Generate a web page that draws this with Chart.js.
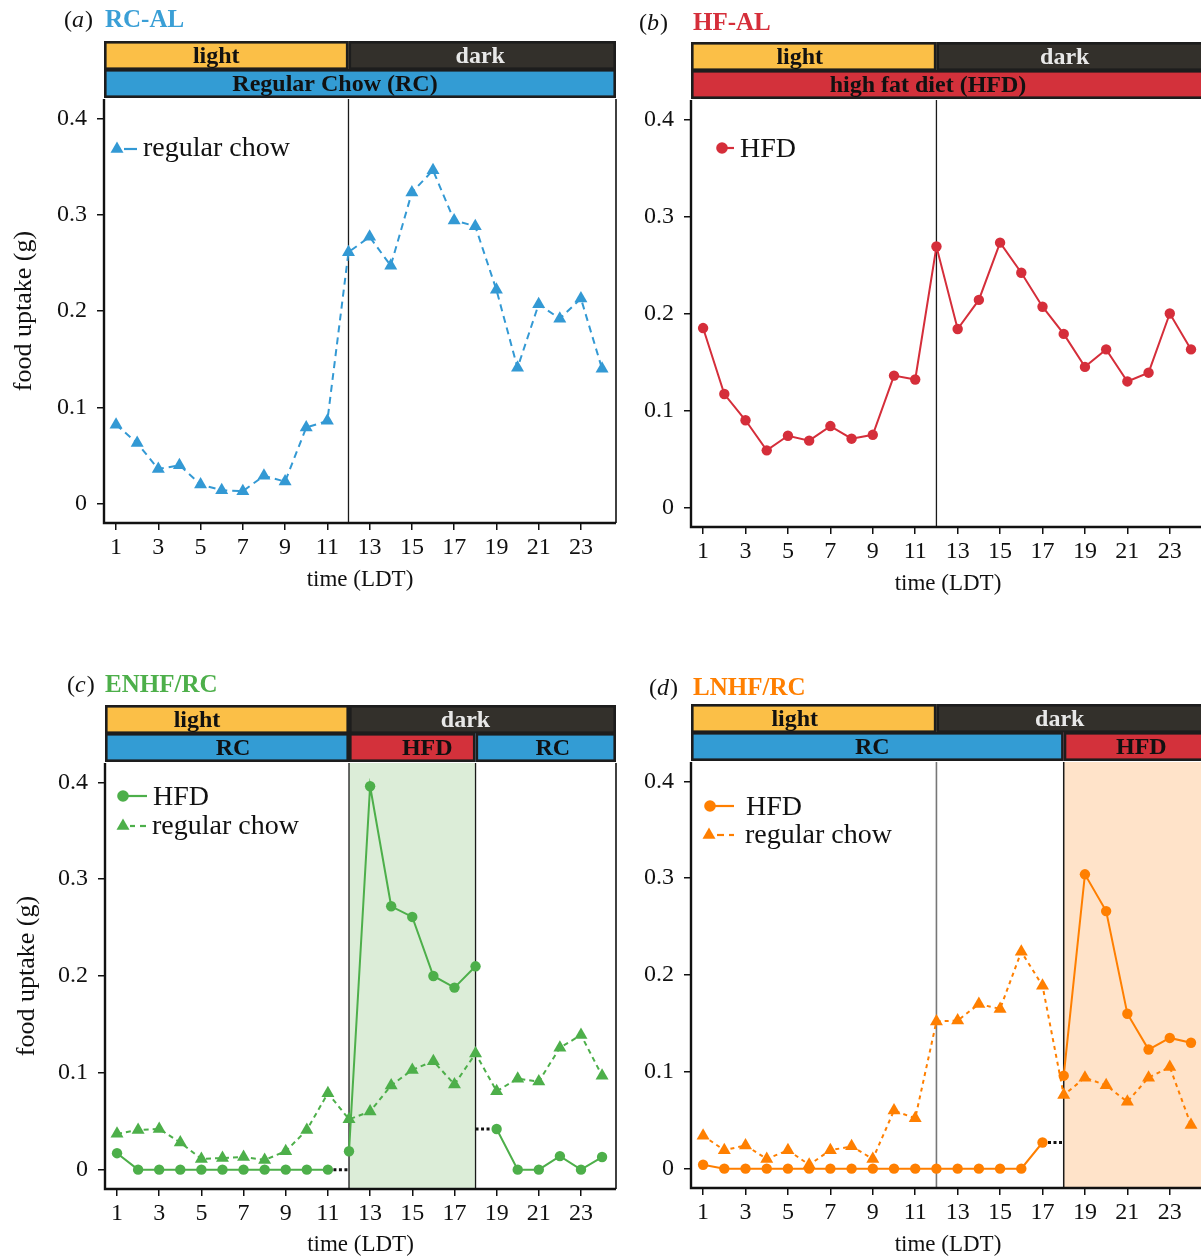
<!DOCTYPE html>
<html>
<head>
<meta charset="utf-8">
<script src="https://cdn.jsdelivr.net/npm/chart.js@4.4.1/dist/chart.umd.min.js"></script>
<style>
  html, body { margin: 0; padding: 0; background: #fff; overflow: hidden; width: 1201px; height: 1256px; }
  canvas { position: absolute; }
</style>
</head>
<body>
<canvas id="panelA" style="left:0px;top:0px" width="620" height="600"></canvas>
<canvas id="panelB" style="left:587px;top:0px" width="618" height="604"></canvas>
<canvas id="panelC" style="left:1px;top:660px" width="619" height="605"></canvas>
<canvas id="panelD" style="left:587px;top:660px" width="618" height="605"></canvas>
<script>
// ---- data: hourly food uptake (g) over the light/dark cycle ----
const hours = [1, 2, 3, 4, 5, 6, 7, 8, 9, 10, 11, 12, 13, 14, 15, 16, 17, 18, 19, 20, 21, 22, 23, 24];
const xTickHours = [1, 3, 5, 7, 9, 11, 13, 15, 17, 19, 21, 23];
const yTickValues = [0, 0.1, 0.2, 0.3, 0.4];

// (a) RC-AL: regular chow ad libitum
const rcAlChow = [0.082, 0.063, 0.036, 0.040, 0.020, 0.014, 0.013, 0.029, 0.023, 0.079, 0.086, 0.261,
                  0.277, 0.247, 0.323, 0.346, 0.294, 0.288, 0.222, 0.141, 0.207, 0.192, 0.213, 0.140];
// (b) HF-AL: high fat diet ad libitum
const hfAlHfd = [0.185, 0.117, 0.090, 0.059, 0.074, 0.069, 0.084, 0.071, 0.075, 0.136, 0.132, 0.269,
                 0.184, 0.214, 0.273, 0.242, 0.207, 0.179, 0.145, 0.163, 0.130, 0.139, 0.200, 0.163];
// (c) ENHF/RC: early-night high fat diet
const enhfHfd = [0.017, 0, 0, 0, 0, 0, 0, 0, 0, 0, 0, 0.019,
                 0.396, 0.272, 0.261, 0.200, 0.188, 0.210, 0.042, 0, 0, 0.014, 0, 0.013];
const enhfChow = [0.037, 0.041, 0.042, 0.028, 0.011, 0.012, 0.013, 0.010, 0.019, 0.041, 0.079, 0.052,
                  0.060, 0.087, 0.103, 0.112, 0.088, 0.120, 0.081, 0.094, 0.091, 0.126, 0.139, 0.097];
const enhfHfdBreaks = [11, 18];          // diet switches: no line between hour h and h+1
// (d) LNHF/RC: late-night high fat diet
const lnhfHfd = [0.004, 0, 0, 0, 0, 0, 0, 0, 0, 0, 0, 0,
                 0, 0, 0, 0, 0.027, 0.096, 0.304, 0.266, 0.160, 0.123, 0.135, 0.130];
const lnhfChow = [0.034, 0.019, 0.024, 0.010, 0.019, 0.004, 0.019, 0.023, 0.010, 0.060, 0.052, 0.152,
                  0.153, 0.170, 0.165, 0.224, 0.189, 0.076, 0.094, 0.086, 0.069, 0.094, 0.105, 0.045];
const lnhfHfdBreaks = [17];

// ---- styling ----
const SERIF = '"Liberation Serif", "DejaVu Serif", "Times New Roman", serif';
const INK = '#111111';
const C_LIGHT = '#FBBF47', C_DARK = '#33302B', C_RC = '#339CD4', C_HFD = '#D3313B';
const BLUE = '#3399D4', RED = '#D52E3A', GREEN = '#4DAF4A', ORANGE = '#FF7F00';
const GREEN_SHADE = '#DCEDD8', ORANGE_SHADE = '#FFE3C9';
const TRI_R = 7.5, DOT_R = 5.2;

Chart.defaults.font.family = SERIF;
Chart.defaults.color = INK;

const pts = arr => hours.map((h, i) => ({ x: h, y: arr[i] }));

function series(arr, color, isChow, dash, breaks) {
  const br = breaks || [];
  return {
    data: pts(arr),
    borderColor: color,
    backgroundColor: color,
    pointBackgroundColor: color,
    borderWidth: 2,
    borderDash: isChow ? dash : [],
    pointStyle: isChow ? 'triangle' : 'circle',
    pointRadius: isChow ? TRI_R : DOT_R,
    pointHoverRadius: isChow ? TRI_R : DOT_R,
    pointBorderWidth: 0,
    tension: 0,
    segment: {
      borderColor: c => br.includes(c.p0.parsed.x) ? 'rgba(0,0,0,0)' : undefined
    }
  };
}

// dotted black link drawn at the level of one hour's value
function link(arr, fromHour, toHour, levelHour) {
  const y = arr[levelHour - 1];
  return {
    data: [{ x: fromHour, y }, { x: toHour, y }],
    borderColor: INK, borderWidth: 3, borderDash: [3, 2.5],
    pointRadius: 0, pointHoverRadius: 0, tension: 0
  };
}

function drawMarker(ctx, kind, x, y, r, color) {
  ctx.fillStyle = color;
  ctx.beginPath();
  if (kind === 'triangle') {
    for (let k = 0; k < 3; k++) {
      const ang = k * 2 * Math.PI / 3;
      const px = x + Math.sin(ang) * r, py = y - Math.cos(ang) * r;
      k === 0 ? ctx.moveTo(px, py) : ctx.lineTo(px, py);
    }
    ctx.closePath();
  } else {
    ctx.arc(x, y, r, 0, 2 * Math.PI);
  }
  ctx.fill();
}

const panelDecor = {
  id: 'panelDecor',
  beforeDatasetsDraw(chart, args, o) {
    const { ctx, chartArea: a, scales: { x } } = chart;
    const px = v => x.getPixelForValue(v);
    ctx.save();
    (o.shade || []).forEach(s => {
      const x0 = px(s.from), x1 = s.to == null ? a.right : px(s.to);
      ctx.fillStyle = s.color;
      ctx.fillRect(x0, a.top, x1 - x0, a.bottom - a.top);
    });
    (o.vlines || []).forEach(v => {
      const p = px(v.at);
      ctx.strokeStyle = v.color; ctx.lineWidth = v.width;
      ctx.beginPath(); ctx.moveTo(p, a.top); ctx.lineTo(p, a.bottom); ctx.stroke();
    });
    ctx.restore();
  },
  afterDraw(chart, args, o) {
    const { ctx, chartArea: a, scales: { x } } = chart;
    ctx.save();
    // frame
    ctx.strokeStyle = INK;
    ctx.lineWidth = 2.4;
    ctx.beginPath();
    ctx.moveTo(a.left, a.top); ctx.lineTo(a.left, a.bottom); ctx.lineTo(a.right, a.bottom);
    ctx.stroke();
    ctx.lineWidth = 1.6;
    ctx.beginPath(); ctx.moveTo(a.right, a.top); ctx.lineTo(a.right, a.bottom); ctx.stroke();

    // light/dark and diet strips
    o.strips.forEach(row => row.cells.forEach(c => {
      const x0 = c.from == null ? a.left : x.getPixelForValue(c.from);
      const x1 = c.to == null ? a.right : x.getPixelForValue(c.to);
      const y0 = a.top + row.y0, y1 = a.top + row.y1;
      ctx.fillStyle = c.fill;
      ctx.fillRect(x0, y0, x1 - x0, y1 - y0);
      ctx.strokeStyle = '#1d1d1d'; ctx.lineWidth = 2.6;
      ctx.strokeRect(x0 + 1.3, y0 + 1.3, x1 - x0 - 2.6, y1 - y0 - 2.6);
      ctx.fillStyle = c.ink;
      ctx.font = 'bold 24px ' + SERIF;
      ctx.textAlign = 'center'; ctx.textBaseline = 'alphabetic';
      ctx.fillText(c.label, (x0 + x1) / 2 + (c.dx || 0), y1 - 7);
    }));

    // panel heading: "(a)" + name
    const t = o.heading;
    ctx.textAlign = 'left'; ctx.textBaseline = 'alphabetic';
    ctx.fillStyle = INK;
    ctx.font = '24px ' + SERIF;
    let cx = t.x;
    ctx.fillText('(', cx, t.y); cx += ctx.measureText('(').width;
    ctx.font = 'italic 24px ' + SERIF;
    ctx.fillText(t.tag, cx, t.y); cx += ctx.measureText(t.tag).width + 1;
    ctx.font = '24px ' + SERIF;
    ctx.fillText(')', cx, t.y);
    ctx.font = 'bold 25px ' + SERIF;
    ctx.fillStyle = t.color;
    ctx.fillText(t.text, t.x2, t.y);

    // legend
    o.legend.forEach(e => {
      ctx.strokeStyle = e.color; ctx.lineWidth = 2.2;
      e.segs.forEach(s => {
        ctx.beginPath(); ctx.moveTo(s[0], e.my); ctx.lineTo(s[1], e.my); ctx.stroke();
      });
      drawMarker(ctx, e.marker, e.mx, e.my, e.marker === 'triangle' ? TRI_R : DOT_R + 0.6, e.color);
      ctx.fillStyle = INK;
      ctx.font = '28px ' + SERIF;
      ctx.textAlign = 'left';
      ctx.fillText(e.label, e.tx, e.ty);
    });
    ctx.restore();
  }
};

function makePanel(id, opt) {
  return new Chart(document.getElementById(id), {
    type: 'line',
    data: { datasets: opt.datasets },
    plugins: [panelDecor],
    options: {
      responsive: false,
      animation: false,
      events: [],
      layout: { autoPadding: false, padding: { top: opt.padTop, right: opt.padRight, left: 0, bottom: 0 } },
      plugins: {
        legend: { display: false },
        tooltip: { enabled: false },
        panelDecor: opt.decor
      },
      scales: {
        x: {
          type: 'linear', min: 0.43, max: 24.66,
          afterBuildTicks: s => { s.ticks = xTickHours.map(v => ({ value: v })); },
          afterFit: s => { s.height = opt.xAxisHeight; s.paddingLeft = 0; s.paddingRight = 0; },
          ticks: { font: { size: 24 }, color: INK, padding: 3, maxRotation: 0, autoSkip: false,
                   callback: v => String(v) },
          grid: { drawOnChartArea: false, drawTicks: true, tickLength: 7, color: INK, lineWidth: 1.5 },
          border: { display: false },
          title: { display: true, text: 'time (LDT)', color: INK,
                   font: { size: 23, lineHeight: 1 }, padding: { top: 0, bottom: 8.5 } }
        },
        y: {
          type: 'linear', min: -0.02, max: 0.42,
          afterBuildTicks: s => { s.ticks = yTickValues.map(v => ({ value: v })); },
          afterFit: s => { s.width = 104; s.paddingTop = 0; s.paddingBottom = 0; },
          ticks: { font: { size: 24 }, color: INK, padding: 10,
                   callback: v => v === 0 ? '0' : v.toFixed(1) },
          grid: { drawOnChartArea: false, drawTicks: true, tickLength: 7, color: INK, lineWidth: 1.5 },
          border: { display: false },
          title: { display: opt.yTitle, text: 'food uptake (g)', color: INK,
                   font: { size: 26, lineHeight: 1 }, padding: { top: opt.yTitlePad || 11 } }
        }
      }
    }
  });
}

const stripTop = { y0: -58, y1: -29 };
const stripBottom = { y0: -30, y1: -1 };

// (a)
makePanel('panelA', {
  padTop: 99, padRight: 4, xAxisHeight: 77, yTitle: true, yTitlePad: 11,
  datasets: [series(rcAlChow, BLUE, true, [7, 5])],
  decor: {
    heading: { x: 64, x2: 105, y: 27, tag: 'a', text: 'RC-AL', color: '#3A9FD6' },
    vlines: [{ at: 12, color: '#1a1a1a', width: 1.3 }],
    strips: [
      { ...stripTop, cells: [
        { from: null, to: 12, label: 'light', fill: C_LIGHT, ink: INK, dx: -10 },
        { from: 12, to: null, label: 'dark', fill: C_DARK, ink: '#E8E8E8', dx: -2 } ] },
      { ...stripBottom, cells: [
        { from: null, to: null, label: 'Regular Chow (RC)', fill: C_RC, ink: INK, dx: -25 } ] }
    ],
    legend: [
      { marker: 'triangle', color: BLUE, mx: 117, my: 149, segs: [[124, 137]], label: 'regular chow', tx: 143, ty: 156 }
    ]
  }
});

// (b)
makePanel('panelB', {
  padTop: 100, padRight: 0, xAxisHeight: 77, yTitle: false,
  datasets: [series(hfAlHfd, RED, false)],
  decor: {
    heading: { x: 52, x2: 106, y: 30, tag: 'b', text: 'HF-AL', color: RED },
    vlines: [{ at: 12, color: '#1a1a1a', width: 1.3 }],
    strips: [
      { ...stripTop, cells: [
        { from: null, to: 12, label: 'light', fill: C_LIGHT, ink: INK, dx: -14 },
        { from: 12, to: null, label: 'dark', fill: C_DARK, ink: '#E8E8E8', dx: -6 } ] },
      { ...stripBottom, cells: [
        { from: null, to: null, label: 'high fat diet (HFD)', fill: C_HFD, ink: INK, dx: -20 } ] }
    ],
    legend: [
      { marker: 'circle', color: RED, mx: 135, my: 148, segs: [[135, 147]], label: 'HFD', tx: 153, ty: 157 }
    ]
  }
});

// (c)
makePanel('panelC', {
  padTop: 103, padRight: 4, xAxisHeight: 76, yTitle: true, yTitlePad: 13,
  datasets: [
    series(enhfHfd, GREEN, false, null, enhfHfdBreaks),
    series(enhfChow, GREEN, true, [5, 4]),
    link(enhfHfd, 11, 12, 11),
    link(enhfHfd, 18, 19, 19)
  ],
  decor: {
    heading: { x: 66, x2: 104, y: 32, tag: 'c', text: 'ENHF/RC', color: GREEN },
    shade: [{ from: 12, to: 18, color: GREEN_SHADE }],
    vlines: [{ at: 12, color: '#1a1a1a', width: 1.3 }, { at: 18, color: '#1a1a1a', width: 1.3 }],
    strips: [
      { ...stripTop, cells: [
        { from: null, to: 12, label: 'light', fill: C_LIGHT, ink: INK, dx: -30 },
        { from: 12, to: null, label: 'dark', fill: C_DARK, ink: '#E8E8E8', dx: -17 } ] },
      { ...stripBottom, cells: [
        { from: null, to: 12, label: 'RC', fill: C_RC, ink: INK, dx: 6 },
        { from: 12, to: 18, label: 'HFD', fill: C_HFD, ink: INK, dx: 15 },
        { from: 18, to: null, label: 'RC', fill: C_RC, ink: INK, dx: 7 } ] }
    ],
    legend: [
      { marker: 'circle', color: GREEN, mx: 122, my: 136, segs: [[122, 146]], label: 'HFD', tx: 152, ty: 145 },
      { marker: 'triangle', color: GREEN, mx: 122, my: 166, segs: [[129, 134], [139, 145]], label: 'regular chow', tx: 151, ty: 174 }
    ]
  }
});

// (d)
makePanel('panelD', {
  padTop: 102, padRight: 0, xAxisHeight: 77, yTitle: false,
  datasets: [
    series(lnhfHfd, ORANGE, false, null, lnhfHfdBreaks),
    series(lnhfChow, ORANGE, true, [4, 4]),
    link(lnhfHfd, 17, 18, 17)
  ],
  decor: {
    heading: { x: 62, x2: 106, y: 35, tag: 'd', text: 'LNHF/RC', color: ORANGE },
    shade: [{ from: 18, to: null, color: ORANGE_SHADE }],
    vlines: [{ at: 12, color: '#777777', width: 1.6 }, { at: 18, color: '#1a1a1a', width: 1.5 }],
    strips: [
      { ...stripTop, cells: [
        { from: null, to: 12, label: 'light', fill: C_LIGHT, ink: INK, dx: -19 },
        { from: 12, to: null, label: 'dark', fill: C_DARK, ink: '#E8E8E8', dx: -11 } ] },
      { ...stripBottom, cells: [
        { from: null, to: 18, label: 'RC', fill: C_RC, ink: INK, dx: -5 },
        { from: 18, to: null, label: 'HFD', fill: C_HFD, ink: INK, dx: 7 } ] }
    ],
    legend: [
      { marker: 'circle', color: ORANGE, mx: 123, my: 146, segs: [[123, 147]], label: 'HFD', tx: 159, ty: 155 },
      { marker: 'triangle', color: ORANGE, mx: 122, my: 175, segs: [[130, 137], [142, 147]], label: 'regular chow', tx: 158, ty: 183 }
    ]
  }
});
</script>
</body>
</html>
